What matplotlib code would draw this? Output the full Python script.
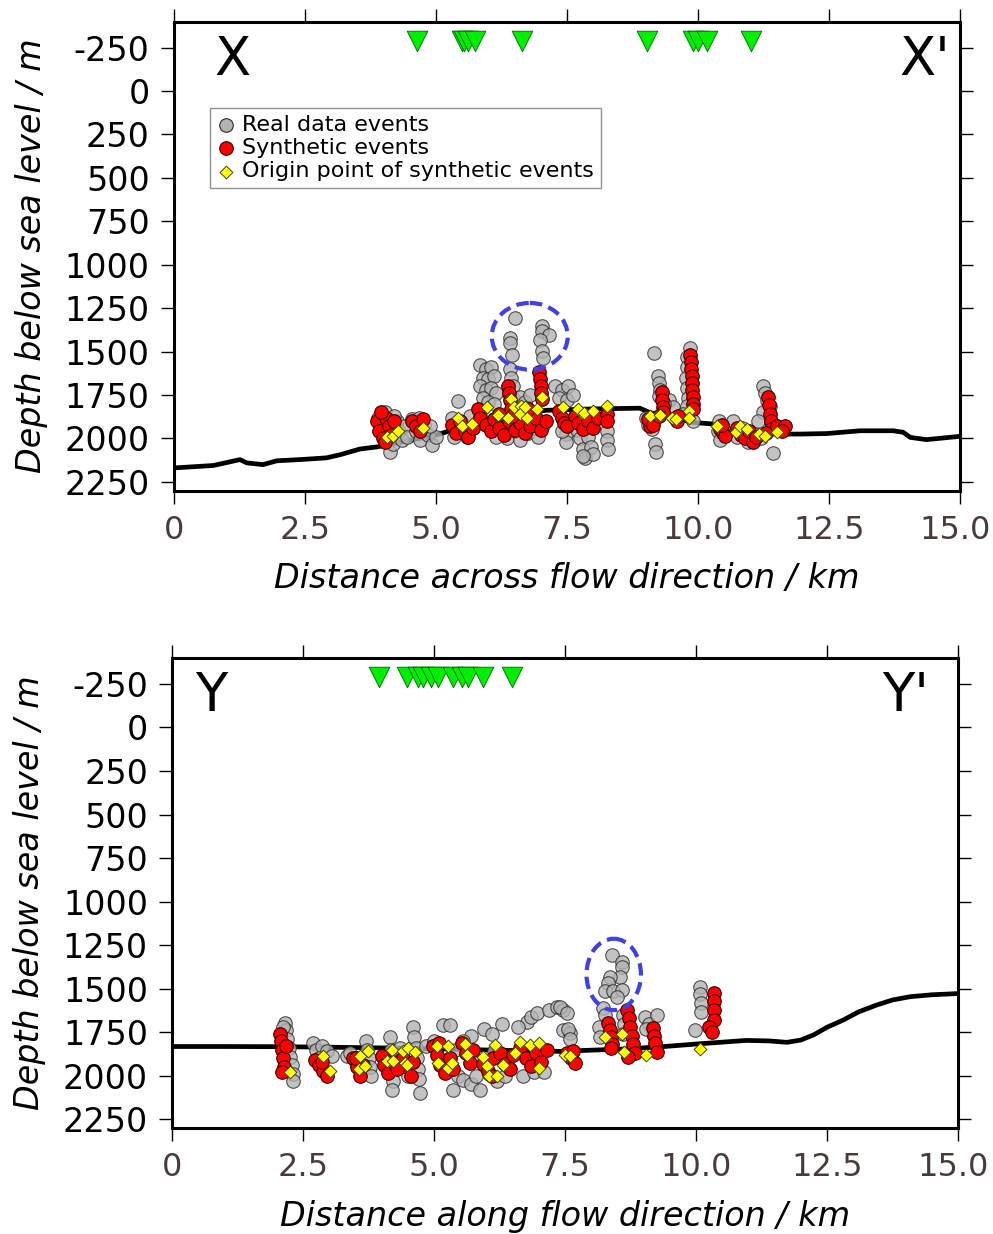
import matplotlib
matplotlib.use("Agg")
import matplotlib.pyplot as plt
import matplotlib.transforms as mtransforms
from matplotlib.patches import Ellipse
import numpy as np

plt.rcParams['font.family'] = ['DejaVu Sans']

# ---------------- data : top section (X - X') ----------------
top_topo_x = [0.0, 0.75, 1.26, 1.39, 1.70, 1.96, 2.40, 2.91, 3.17, 3.55, 3.87, 4.31, 4.95,
              5.84, 6.50, 7.11, 8.0, 8.89, 9.08, 9.91, 10.29, 11.12, 11.56, 11.95, 12.46,
              13.09, 13.73, 13.92, 14.05, 14.36, 15.0]
top_topo_d = [2170, 2156, 2122, 2141, 2151, 2129, 2122, 2112, 2094, 2061, 2049, 2022, 1985,
              1905, 1860, 1838, 1830, 1826, 1851, 1908, 1917, 1956, 1975, 1975, 1972,
              1956, 1956, 1965, 1994, 2007, 1988]

top_real_x = [3.90, 3.95, 4.00, 4.05, 4.10, 4.12, 4.18, 4.25, 4.30, 4.35, 4.40, 4.02, 4.45, 4.20,
              4.55, 4.62, 4.70, 4.78, 4.85, 4.92, 5.00, 4.68, 4.88,
              5.43, 5.30, 5.40, 5.50, 5.60, 5.70, 5.35, 5.65,
              5.85, 5.95, 6.05, 5.90, 6.00, 6.10, 5.85, 5.95, 6.05, 6.15, 5.90, 6.00, 6.10,
              5.85, 6.00, 6.15, 6.25, 6.35, 6.50, 6.60, 6.75, 6.85, 6.95, 7.05, 6.30, 6.55, 6.70,
              6.41, 6.44, 6.47, 6.45, 6.60, 6.70, 6.80,
              6.51, 6.41, 6.41, 6.46, 7.02, 7.02, 7.15, 6.98, 7.02, 7.04,
              7.28, 7.40, 7.52, 7.35, 7.50, 7.62,
              7.49, 7.49, 7.70, 7.75, 7.80, 7.85, 7.90, 7.95, 8.00, 7.80, 8.26, 8.26, 8.28, 7.40,
              9.16, 9.24, 9.25, 9.27, 9.26, 9.00, 9.05, 9.13, 9.18, 9.20, 9.45, 9.52, 9.35,
              9.85, 9.79, 9.80, 9.78, 9.80, 9.81, 9.80, 9.72, 9.90,
              10.40, 10.38, 10.42, 10.55,
              10.66, 10.75, 10.85, 10.95, 11.05, 11.24, 11.28, 11.32, 11.37, 11.25, 11.43, 11.15, 11.20]
top_real_d = [1880, 1950, 2000, 1900, 1960, 2076, 2030, 1900, 1960, 2010, 1930, 1850, 1990, 1870,
              1890, 1960, 2010, 1920, 1980, 2040, 1990, 1880, 1930,
              1784, 1880, 1960, 1910, 1990, 1940, 1990, 1870,
              1580, 1600, 1590, 1650, 1660, 1640, 1700, 1720, 1710, 1740, 1770, 1790, 1800,
              1870, 1930, 1990, 1950, 2000, 1960, 2010, 1970, 1940, 1990, 1920, 1880, 1850, 1880,
              1603, 1650, 1700, 1760, 1760, 1790, 1750,
              1306, 1421, 1450, 1517, 1355, 1383, 1402, 1431, 1498, 1536,
              1700, 1720, 1700, 1770, 1780, 1750,
              1975, 2020, 1950, 2000, 2060, 2110, 1990, 2050, 2090, 2100, 1960, 2010, 2060, 1960,
              1511, 1640, 1680, 1720, 1755, 1880, 1920, 1946, 2032, 2078, 1780, 1820, 1800,
              1478, 1530, 1590, 1650, 1710, 1770, 1815, 1860, 1900,
              1900, 1960, 2010, 1950,
              1900, 1990, 1940, 2020, 1970, 1700, 1740, 1780, 1815, 1850, 2084, 1900, 2000]

top_syn_x = [3.88, 3.92, 3.98, 4.05, 4.10, 4.15, 4.20, 3.95, 4.02,
             4.55, 4.62, 4.70, 4.75,
             5.30, 5.38, 5.45, 5.55, 5.62, 5.70,
             5.80, 5.85, 5.95, 6.05, 6.10, 6.20, 6.30, 6.40, 6.50, 6.60, 6.70, 6.80, 6.90, 7.00, 7.10,
             6.37, 6.40, 6.42, 6.44, 6.45, 6.97, 6.98, 7.00, 7.00, 7.02, 6.75, 6.20,
             7.35, 7.40, 7.45, 7.50,
             7.65, 7.72, 7.80, 7.90, 8.00, 8.10, 8.26, 8.26,
             9.08, 9.05, 9.15, 9.31, 9.32, 9.33, 9.34, 9.25, 9.56, 9.60, 9.62,
             9.85, 9.86, 9.87, 9.88, 9.88, 9.89, 9.90, 9.90, 9.91,
             10.42, 10.48, 10.51, 10.45,
             10.74, 10.82, 10.90, 10.98, 11.05, 11.10, 11.34, 11.36, 11.38, 11.39, 11.40, 11.30,
             11.50, 11.66, 11.60]
top_syn_d = [1900, 1960, 2000, 1880, 1930, 1980, 1900, 1850, 2020,
             1900, 1930, 1960, 1890,
             1920, 1970, 1900, 1960, 1990, 1940,
             1830, 1880, 1920, 1960, 1890, 1940, 1980, 1900, 1950, 1910, 1970, 1930, 1880, 1950, 1900,
             1700, 1740, 1780, 1830, 1870, 1620, 1660, 1700, 1740, 1774, 1830, 1860,
             1840, 1880, 1910, 1930,
             1870, 1910, 1946, 1900, 1940, 1880, 1860, 1900,
             1927, 1890, 1920, 1735, 1780, 1820, 1850, 1870, 1880, 1900, 1870,
             1517, 1560, 1600, 1640, 1680, 1720, 1760, 1800, 1832,
             1946, 1970, 1987, 1925,
             1940, 1980, 2000, 1960, 2020, 1990, 1763, 1810, 1860, 1900, 1946, 1970,
             1930, 1927, 1960]

top_orig_x = [4.06, 4.18, 4.28, 4.75, 5.43, 5.49, 5.68, 5.97, 6.19, 6.38, 6.44, 6.48, 6.63, 6.60,
              6.73, 6.92, 7.02, 6.70, 7.43, 7.78, 7.72, 7.83, 7.99, 8.26, 9.08, 9.27, 9.50, 9.59,
              9.82, 9.82, 10.37, 10.73, 10.81, 10.93, 11.16, 11.28, 11.50]
top_orig_d = [1994, 1985, 1956, 1942, 1885, 1927, 1918, 1822, 1866, 1880, 1774, 1822, 1813, 1860,
              1880, 1832, 1759, 1822, 1822, 1851, 1828, 1855, 1845, 1816, 1873, 1866, 1880, 1889,
              1841, 1880, 1931, 1962, 1927, 1946, 1975, 1985, 1962]

top_station_x = [4.64, 5.50, 5.53, 5.61, 5.74, 6.64, 9.03, 9.90, 10.00, 10.17, 11.01]
top_station_d = [-290] * len(top_station_x)

# ---------------- data : bottom section (Y - Y') ----------------
bot_topo_x = [0.0, 1.0, 2.0, 3.0, 4.0, 5.0, 6.0, 7.0, 7.41, 8.0, 8.68, 9.4, 10.08, 10.97, 11.4,
              11.74, 12.0, 12.25, 12.5, 12.82, 13.1, 13.45, 13.75, 14.09, 14.5, 15.0]
bot_topo_d = [1832, 1832, 1833, 1836, 1840, 1845, 1852, 1858, 1860, 1853, 1846, 1832, 1816, 1797,
              1800, 1808, 1795, 1765, 1722, 1679, 1634, 1594, 1565, 1546, 1535, 1528]

bot_real_x = [2.15, 2.18, 2.20, 2.22, 2.25, 2.28, 2.30, 2.30, 2.12,
              2.69, 2.75, 2.85, 2.95, 3.05, 2.80,
              3.33, 3.40, 3.70, 3.72, 3.75, 3.78, 3.80, 3.50,
              4.16, 4.18, 4.20, 4.22, 4.20, 4.60, 4.62, 4.65, 4.68, 4.70, 4.72, 4.73, 4.05, 4.35, 4.50, 4.85,
              5.17, 5.30, 5.37, 5.00, 5.20, 5.40, 5.45,
              5.70, 5.55, 5.65, 5.75, 5.55, 5.70, 5.88, 5.80,
              5.95, 6.10, 6.30, 6.05, 6.20, 6.35, 6.40, 6.15,
              6.77, 6.85, 6.96, 7.20, 7.35, 7.47, 7.47, 7.60, 6.60, 6.70, 6.90, 7.10,
              7.40, 7.54, 7.55, 7.60,
              8.14, 8.17, 8.23, 8.27,
              8.39, 8.58, 8.58, 8.55, 8.36, 8.33, 8.27, 8.42, 8.58, 8.49,
              8.60, 8.62, 8.60,
              9.03, 9.10, 9.18, 9.25, 9.05,
              9.98, 10.08, 10.08, 10.09, 10.09]
bot_real_d = [1697, 1740, 1790, 1840, 1890, 1940, 1990, 2031, 1720,
              1811, 1850, 1830, 1860, 1889, 1900,
              1889, 1870, 1800, 1850, 1900, 1950, 2000, 1920,
              1776, 1850, 1950, 2030, 2079, 1720, 1780, 1840, 1900, 1960, 2020, 2100, 1900, 1840, 2000, 1830,
              1708, 1708, 2079, 1800, 1950, 1850, 2000,
              1770, 1800, 1850, 1900, 2022, 2050, 2079, 2000,
              1730, 1760, 1700, 1990, 2030, 2000, 1930, 1860,
              1690, 1660, 1640, 1622, 1605, 1622, 1736, 1754, 1720, 2000, 1980, 1980,
              1605, 1640, 1730, 1790,
              1720, 1780, 1612, 1651,
              1304, 1346, 1375, 1432, 1432, 1470, 1514, 1514, 1508, 1546,
              1650, 1700, 1760,
              1662, 1700, 1754, 1650, 1730,
              1736, 1489, 1530, 1580, 1632]

bot_syn_x = [2.05, 2.08, 2.10, 2.12, 2.14, 2.10, 2.18,
             2.73, 2.80, 2.88, 2.95, 2.85,
             3.46, 3.52, 3.58, 3.64, 3.50,
             4.00, 4.05, 4.12, 4.22, 4.40, 4.48, 4.55, 4.60, 4.30,
             4.98, 5.05, 5.12, 5.20, 5.30, 5.36, 5.10,
             5.53, 5.60, 5.68, 5.75,
             5.94, 6.02, 6.10, 6.13, 6.25, 6.35, 6.45,
             6.64, 6.75, 6.85, 6.95, 7.05, 7.15, 6.50,
             7.54, 7.62, 7.70, 7.65,
             8.33, 8.35, 8.37, 8.39, 8.38,
             8.68, 8.72, 8.75, 8.78, 8.80, 8.84, 8.70,
             9.18, 9.20, 9.22, 9.26,
             10.35, 10.35, 10.35, 10.35, 10.25, 10.30]
bot_syn_d = [1760, 1800, 1850, 1900, 1950, 1976, 1830,
             1907, 1940, 1970, 2003, 1920,
             1900, 1950, 2003, 1940, 1900,
             1889, 1940, 1983, 1920, 1900, 1950, 2000, 1920, 1960,
             1830, 1880, 1940, 1983, 1900, 1960, 1811,
             1810, 1870, 1926, 1850,
             1930, 1970, 2003, 1900, 1870, 1930, 1964,
             1840, 1900, 1946, 1870, 1920, 1850, 1880,
             1870, 1900, 1926, 1860,
             1697, 1740, 1780, 1820, 1840,
             1622, 1670, 1720, 1770, 1820, 1870, 1890,
             1725, 1770, 1810, 1862,
             1523, 1570, 1620, 1679, 1718, 1746]

bot_orig_x = [2.25, 2.87, 3.01, 3.59, 3.73, 3.57, 3.68, 4.19, 4.10, 4.22, 4.40, 4.45, 4.51, 4.48,
              4.64, 5.05, 5.08, 5.27, 5.27, 5.34, 5.59, 5.62, 5.94, 6.01, 6.04, 6.20, 6.17, 6.32,
              6.55, 6.64, 6.83, 7.00, 7.01, 7.50, 7.60, 8.27, 8.58, 8.62, 9.05, 10.08]
bot_orig_d = [1980, 1889, 1974, 1889, 1860, 1964, 1946, 1850, 1917, 1917, 1860, 1926, 1841, 1936,
              1866, 1831, 1926, 1828, 1955, 1926, 1816, 1879, 1892, 1946, 2003, 2003, 1822, 1936,
              1869, 1808, 1821, 1812, 1955, 1879, 1885, 1778, 1759, 1866, 1879, 1847]

bot_station_x = [3.95, 4.48, 4.70, 4.79, 4.94, 5.08, 5.36, 5.53, 5.65, 5.94, 6.49]
bot_station_d = [-290] * len(bot_station_x)

x_ticks = [0, 2.5, 5.0, 7.5, 10.0, 12.5, 15.0]
x_tick_labels = ['0', '2.5', '5.0', '7.5', '10.0', '12.5', '15.0']
y_ticks = [-250, 0, 250, 500, 750, 1000, 1250, 1500, 1750, 2000, 2250]
y_tick_labels = ['-250', '0', '250', '500', '750', '1000', '1250', '1500', '1750', '2000', '2250']

# ---------------- figure ----------------
fig = plt.figure(figsize=(9.93, 12.34), dpi=100)
ax1 = fig.add_axes([0.1752, 0.6025, 0.7915, 0.3800])
ax2 = fig.add_axes([0.1735, 0.0859, 0.7910, 0.3810])

panels = [
    (ax1, top_topo_x, top_topo_d, top_real_x, top_real_d, top_syn_x, top_syn_d,
     top_orig_x, top_orig_d, top_station_x, top_station_d,
     'Distance across flow direction / km', ('X', "X'"), (6.79, 1412, 1.45, 384),
     (0.074, 0.955), True),
    (ax2, bot_topo_x, bot_topo_d, bot_real_x, bot_real_d, bot_syn_x, bot_syn_d,
     bot_orig_x, bot_orig_d, bot_station_x, bot_station_d,
     'Distance along flow direction / km', ('Y', "Y'"), (8.43, 1418, 1.04, 410),
     (0.049, 0.933), False),
]

tick_color = '#4a3b3b'
for (ax, tx, td, rx, rd, sx, sd, ox, od, stx, std, xlabel, names, ell, namepos, leg) in panels:
    ax.plot(tx, td, color='black', lw=3.4, zorder=1, solid_capstyle='round',
            solid_joinstyle='round')
    ax.scatter(rx, rd, s=95, facecolor='#b3b3b3', edgecolor='#2a2a2a', linewidths=0.8,
               alpha=0.8, zorder=2, label='Real data events')
    ax.scatter(sx, sd, s=95, facecolor='#ff0000', edgecolor='#3a0000', linewidths=0.8,
               zorder=3, label='Synthetic events')
    ax.scatter(ox, od, s=42, marker='D', facecolor='#ffff00', edgecolor='#444400',
               linewidths=0.7, zorder=4, label='Origin point of synthetic events')
    ax.scatter(stx, std, s=220, marker='v', facecolor='#00ee00', edgecolor='#006600',
               linewidths=0.6, zorder=5)
    cx, cy, w, h = ell
    ax.add_patch(Ellipse((cx, cy), w, h, fill=False, edgecolor='#4040e8', lw=3.0,
                         linestyle=(0, (3, 1.6)), zorder=6))

    ax.set_xlim(0, 15)
    ax.set_ylim(2300, -400)
    ax.set_xticks(x_ticks)
    ax.set_xticklabels(x_tick_labels, fontsize=23, color=tick_color)
    ax.set_yticks(y_ticks)
    ax.set_yticklabels(y_tick_labels, fontsize=24, color='black')
    ax.tick_params(direction='out', length=9.5, width=1.0, top=True, right=True,
                   labeltop=False, labelright=False)
    ax.tick_params(axis='y', pad=8)
    ax.tick_params(axis='x', pad=8)
    for sp in ax.spines.values():
        sp.set_linewidth(2.2)
    # nudge the last x tick label slightly left so it stays within the figure
    last = ax.get_xticklabels()[-1]
    last.set_transform(last.get_transform() +
                       mtransforms.ScaledTranslation(-5 / 100, 0, fig.dpi_scale_trans))
    ax.set_xlabel(xlabel, fontsize=24, style='italic', labelpad=12)
    ax.set_ylabel('Depth below sea level / m', fontsize=24, style='italic', labelpad=12)
    ax.text(namepos[0], 0.918, names[0], transform=ax.transAxes, fontsize=38,
            ha='center', va='center')
    ax.text(namepos[1], 0.918, names[1], transform=ax.transAxes, fontsize=38,
            ha='center', va='center')
    if leg:
        lg = ax.legend(loc='upper left', bbox_to_anchor=(0.0458, 0.8156), borderaxespad=0,
                       fontsize=16, frameon=True, fancybox=False, handlelength=0.8,
                       handletextpad=0.35, labelspacing=0.15, borderpad=0.3,
                       scatterpoints=1, markerscale=1.0)
        lg.get_frame().set_edgecolor('#777777')
        lg.get_frame().set_linewidth(1.0)
        for h_ in lg.legend_handles:
            h_.set_alpha(1.0)

fig.savefig('out.png', dpi=100)
